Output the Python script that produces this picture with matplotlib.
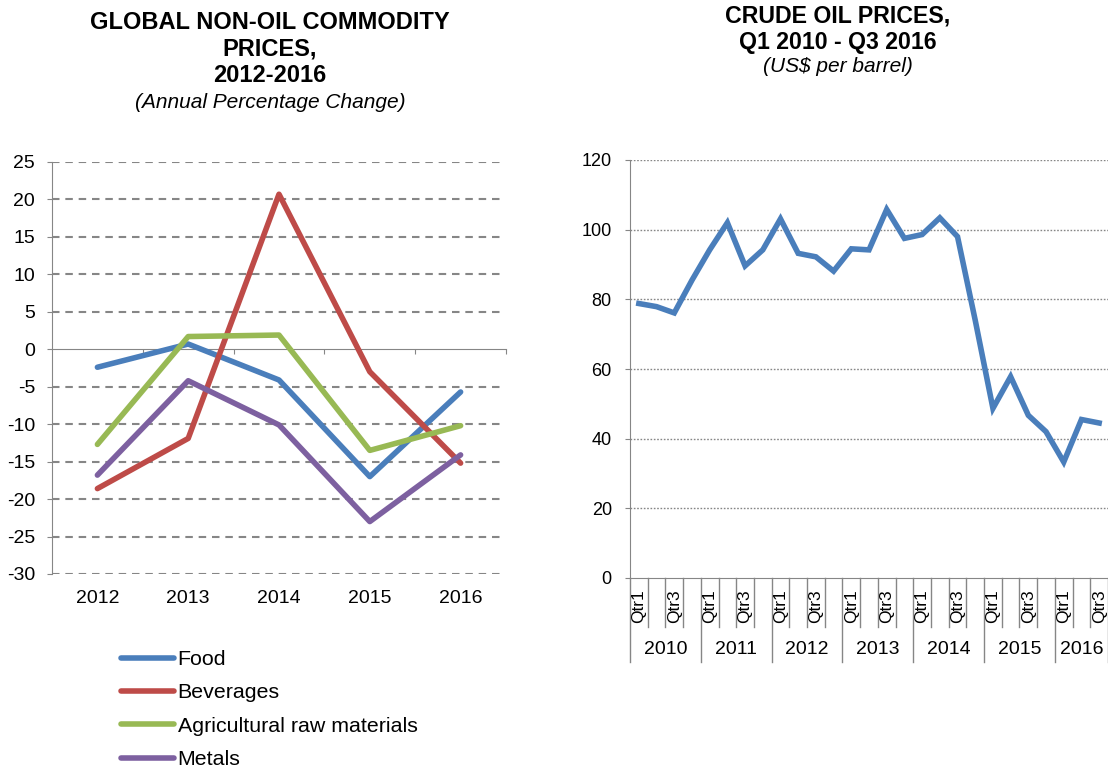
import matplotlib
matplotlib.use("Agg")
import matplotlib.pyplot as plt
import matplotlib.transforms as mtransforms
import numpy as np

plt.rcParams['font.family'] = ['Liberation Sans', 'DejaVu Sans']
plt.rcParams['axes.unicode_minus'] = False

# ---------------- data ----------------
years = ["2012", "2013", "2014", "2015", "2016"]
food = [-2.4, 0.7, -4.1, -17.0, -5.7]
beverages = [-18.6, -11.9, 20.7, -3.0, -15.2]
agri = [-12.7, 1.7, 1.9, -13.5, -10.2]
metals = [-16.8, -4.2, -10.1, -23.0, -14.1]
series_names = ["Food", "Beverages", "Agricultural raw materials", "Metals"]
series_colors = ["#4A7EBB", "#BE4B48", "#98B954", "#7D60A0"]

oil_years = ["2010", "2011", "2012", "2013", "2014", "2015", "2016"]
oil_quarters_per_year = [4, 4, 4, 4, 4, 4, 3]
oil_prices = [78.8, 77.9, 76.1, 85.5,
              94.2, 102.0, 89.6, 94.2,
              103.1, 93.2, 92.2, 88.1,
              94.5, 94.2, 105.8, 97.5,
              98.6, 103.4, 98.0, 74.0,
              48.7, 57.8, 46.7, 42.0,
              33.3, 45.5, 44.5]

fig = plt.figure(figsize=(11.08, 7.71), dpi=100)
GRAY = "#868686"

# ---------------- left chart ----------------
ax1 = fig.add_axes([52/1108, 1-574/771, 454/1108, 412/771])
xs = np.arange(len(years))
for vals, name, col in zip([food, beverages, agri, metals], series_names, series_colors):
    ax1.plot(xs, vals, color=col, lw=4.0, label=name, solid_capstyle='round', zorder=3)
ax1.set_xlim(-0.5, len(years)-0.5)
ax1.set_ylim(-30, 25)
ax1.set_yticks(np.arange(-30, 26, 5))
for v in np.arange(-30, 26, 5):
    if v != 0:
        ax1.axhline(v, xmax=0.99, color=GRAY, lw=1.5, ls=(0, (3.6, 2.8)), zorder=1)
for s in ['top', 'right']:
    ax1.spines[s].set_visible(False)
ax1.spines['left'].set_color(GRAY)
ax1.spines['bottom'].set_position(('data', 0))
ax1.spines['bottom'].set_color(GRAY)
ax1.set_xticks(np.arange(0.5, len(years), 1.0))
ax1.set_xticklabels([])
ax1.tick_params(axis='x', direction='out', length=3.6, color=GRAY)
ax1.tick_params(axis='y', direction='out', length=3.6, color=GRAY, labelsize=14, pad=8.5)
tr1 = mtransforms.blended_transform_factory(ax1.transData, ax1.transAxes)
for i, y in enumerate(years):
    ax1.text(i, -0.040, y, transform=tr1, ha='center', va='top', fontsize=14)

fig.text(270/1108, 1-11/771, "GLOBAL NON-OIL COMMODITY\nPRICES,\n2012-2016",
         ha='center', va='top', fontsize=17, fontweight='bold', linespacing=1.2)
fig.text(270/1108, 1-103/771, "(Annual Percentage Change)", ha='center', va='center',
         fontsize=15, style='italic')

leg = fig.legend(loc='upper left', bbox_to_anchor=(121/1108, 1-650/771), frameon=False,
                 fontsize=15.4, handlelength=2.5, handletextpad=0.15, labelspacing=0.67,
                 borderpad=0, borderaxespad=0)
for h in leg.get_lines():
    h.set_linewidth(4.0)
    h.set_solid_capstyle('round')

# ---------------- right chart ----------------
ax2 = fig.add_axes([630/1108, 1-578/771, 478/1108, 418/771])
qx = np.arange(len(oil_prices))
ax2.plot(qx, oil_prices, color="#4A7EBB", lw=4.0, solid_joinstyle='miter', zorder=3)
ax2.set_xlim(-0.5, len(oil_prices)-0.5)
ax2.set_ylim(0, 120)
ax2.set_yticks(np.arange(0, 121, 20))
for v in np.arange(20, 121, 20):
    ax2.axhline(v, color=GRAY, lw=1.0, ls=(0, (1.2, 1.2)), zorder=1)
for s in ['top', 'right']:
    ax2.spines[s].set_visible(False)
ax2.spines['left'].set_color(GRAY)
ax2.spines['bottom'].set_color(GRAY)
ax2.set_xticks([])
ax2.tick_params(axis='y', direction='out', length=3.6, color=GRAY, labelsize=13, pad=9.5)

tr2 = mtransforms.blended_transform_factory(ax2.transData, ax2.transAxes)
ax_h = 418.0
q_bottom = -(627-578)/ax_h
y_bottom = -(662-578)/ax_h
year_bounds = np.concatenate([[0], np.cumsum(oil_quarters_per_year)]) - 0.5
idx = 0
for yi, (yr, nq) in enumerate(zip(oil_years, oil_quarters_per_year)):
    for q in range(nq):
        if q % 2 == 0:
            ax2.text(idx, -(589-578)/ax_h, "Qtr%d" % (q+1), transform=tr2, rotation=90,
                     ha='center', va='top', fontsize=12.5)
        if q > 0:
            ax2.plot([idx-0.5, idx-0.5], [0, q_bottom], transform=tr2, color=GRAY,
                     lw=1.0, clip_on=False)
        idx += 1
    ax2.text((year_bounds[yi]+year_bounds[yi+1])/2, -(649-578)/ax_h, yr, transform=tr2,
             ha='center', va='center', fontsize=14)
for b in year_bounds:
    ax2.plot([b, b], [0, y_bottom], transform=tr2, color=GRAY, lw=1.0, clip_on=False)

fig.text(838/1108, 1-4/771, "CRUDE OIL PRICES,\nQ1 2010 - Q3 2016",
         ha='center', va='top', fontsize=16.7, fontweight='bold', linespacing=1.2)
fig.text(838/1108, 1-67/771, "(US$ per barrel)", ha='center', va='center',
         fontsize=15, style='italic')

fig.savefig("out.png", dpi=100)
